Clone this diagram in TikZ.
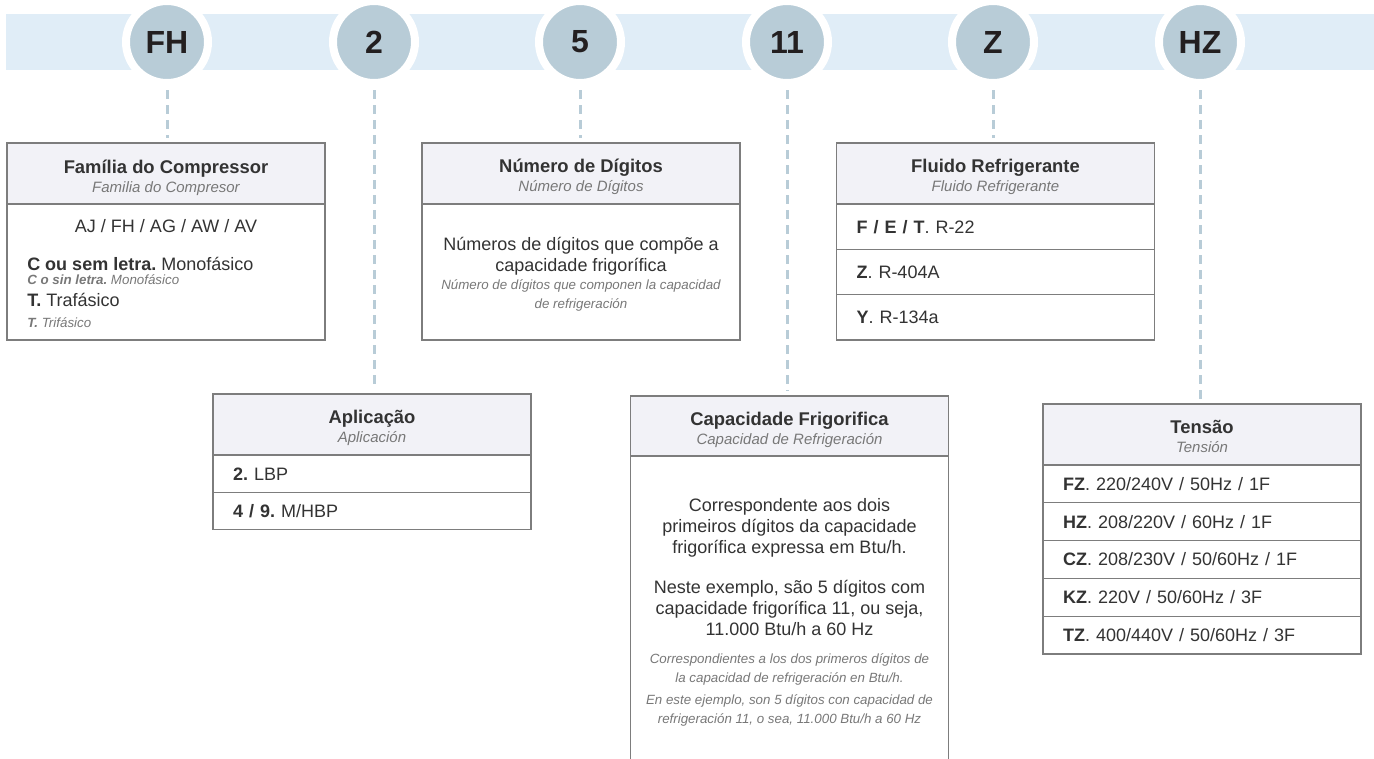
\documentclass[tikz,border=0pt]{standalone}
\usepackage{fontspec}
\setmainfont{Liberation Sans}
\frenchspacing
\usetikzlibrary{positioning}
\definecolor{bandblue}{RGB}{224,237,247}
\definecolor{digitgrey}{RGB}{184,204,215}
\definecolor{digittext}{RGB}{35,31,32}
\definecolor{headgrey}{RGB}{242,242,247}
\definecolor{linegrey}{RGB}{125,125,125}
\definecolor{txtdark}{RGB}{51,51,51}
\definecolor{txtlight}{RGB}{120,120,120}

\begin{document}
\begin{tikzpicture}[x=0.75pt, y=-0.75pt]

	\tikzstyle{digit}=[circle, fill=digitgrey, draw=white, line width=6pt, minimum size=61.5pt, inner sep=0pt, text=digittext, font=\bfseries\fontsize{24}{24}\selectfont]
	\tikzstyle{link}=[draw=digitgrey, line width=2.25pt, dash pattern=on 6.75pt off 4.5pt, shorten <=2.25pt, shorten >=3.75pt]
	\tikzstyle{pane}=[rectangle, draw=linegrey, line width=0.9pt, fill=white, minimum width=238.5pt, outer sep=0pt, inner sep=0pt]
	\tikzstyle{head}=[pane, fill=headgrey, minimum height=45.75pt]
	\tikzstyle{row}=[pane, text width=208.5pt, inner xsep=15pt, align=left, text=txtdark, font=\fontsize{13.5}{16}\selectfont, text height=9.7pt, text depth=0pt]
	\tikzstyle{ttl}=[anchor=base, inner sep=0pt, text=txtdark, font=\bfseries\fontsize{13.8}{15}\selectfont]
	\tikzstyle{sub}=[anchor=base, inner sep=0pt, text=txtlight, font=\itshape\fontsize{11.25}{13}\selectfont]
	\tikzstyle{txt}=[anchor=base, inner sep=0pt, align=center, text=txtdark, font=\fontsize{13.5}{15.75}\selectfont]
	\tikzstyle{note}=[anchor=base, inner sep=0pt, align=center, text=txtlight, font=\itshape\fontsize{10}{14}\selectfont]

	\useasboundingbox (0,0) rectangle (1374,758);
	\fill[bandblue] (6,14) rectangle (1374,70);

	% code letters
	\node at (167,42) (cFH) [digit] {FH};
	\node at (374,42) (cApp) [digit] {2};
	\node at (580,42) (cDig) [digit] {5};
	\node at (787,42) (cCap) [digit] {11};
	\node at (993,42) (cGas) [digit] {Z};
	\node at (1200,42) (cVolt) [digit] {HZ};

	% familia
	\node at (166,173.5) (famHead) [head] {};
	\node at (166,272) (famBody) [pane, minimum height=102pt] {};
	\node at (166,173) (famTitle) [ttl] {Família do Compressor};
	\node at (166,192) (famSub) [sub] {Familia do Compresor};
	\node at (166,232) (famList) [txt] {AJ / FH / AG / AW / AV};
	\node at (27,270) (famMono) [txt, anchor=base west] {\textbf{C ou sem letra.} Monofásico};
	\node at (27,284) (famMonoEs) [note, anchor=base west] {\textbf{C o sin letra.} Monofásico};
	\node at (27,306) (famTri) [txt, anchor=base west] {\textbf{T.} Trafásico};
	\node at (27,327) (famTriEs) [note, anchor=base west] {\textbf{T.} Trifásico};

	% aplicacao
	\node at (372,424.5) (appHead) [head] {};
	\node (appRowA) [row, minimum height=28pt, below=0pt of appHead] {\textbf{2.} LBP};
	\node (appRowB) [row, minimum height=28pt, below=0pt of appRowA] {\textbf{4 / 9.} M/HBP};
	\node at (372,423) (appTitle) [ttl] {Aplicação};
	\node at (372,442) (appSub) [sub] {Aplicación};

	% numero de digitos
	\node at (581,173.5) (digHead) [head] {};
	\node at (581,272) (digBody) [pane, minimum height=102pt] {};
	\node at (581,172) (digTitle) [ttl] {Número de Dígitos};
	\node at (581,191) (digSub) [sub] {Número de Dígitos};
	\node at (581,271) (digText) [txt] {Números de dígitos que compõe a\\capacidade frigorífica};
	\node at (581,308) (digNote) [note] {Número de dígitos que componen la capacidad\\de refrigeración};

	% capacidade
	\node at (789.5,426) (capHead) [head, minimum height=45pt] {};
	\node at (789.5,613) (capBody) [pane, minimum height=235.5pt] {};
	\node at (789.5,425) (capTitle) [ttl] {Capacidade Frigorifica};
	\node at (789.5,444) (capSub) [sub] {Capacidad de Refrigeración};
	\node at (789.5,553) (capTextA) [txt] {Correspondente aos dois\\primeiros dígitos da capacidade\\frigorífica expressa em Btu/h.};
	\node at (789.5,635) (capTextB) [txt] {Neste exemplo, são 5 dígitos com\\capacidade frigorífica 11, ou seja,\\11.000 Btu/h a 60 Hz};
	\node at (789.5,682) (capNoteA) [note] {Correspondientes a los dos primeros dígitos de\\la capacidad de refrigeración en Btu/h.};
	\node at (789.5,723) (capNoteB) [note] {En este ejemplo, son 5 dígitos con capacidad de\\refrigeración 11, o sea, 11.000 Btu/h a 60 Hz};

	% fluido
	\node at (995.5,173.5) (gasHead) [head] {};
	\node (gasRowA) [row, minimum height=34pt, below=0pt of gasHead] {\textbf{F / E / T}. R-22};
	\node (gasRowB) [row, minimum height=34pt, below=0pt of gasRowA] {\textbf{Z}. R-404A};
	\node (gasRowC) [row, minimum height=34pt, below=0pt of gasRowB] {\textbf{Y}. R-134a};
	\node at (995.5,172) (gasTitle) [ttl] {Fluido Refrigerante};
	\node at (995.5,191) (gasSub) [sub] {Fluido Refrigerante};

	% tensao
	\node at (1202,434.5) (voltHead) [head] {};
	\node (voltRowA) [row, minimum height=28.35pt, below=0pt of voltHead] {\textbf{FZ}. 220/240V / 50Hz / 1F};
	\node (voltRowB) [row, minimum height=28.35pt, below=0pt of voltRowA] {\textbf{HZ}. 208/220V / 60Hz / 1F};
	\node (voltRowC) [row, minimum height=28.35pt, below=0pt of voltRowB] {\textbf{CZ}. 208/230V / 50/60Hz / 1F};
	\node (voltRowD) [row, minimum height=28.35pt, below=0pt of voltRowC] {\textbf{KZ}. 220V / 50/60Hz / 3F};
	\node (voltRowE) [row, minimum height=28.35pt, below=0pt of voltRowD] {\textbf{TZ}. 400/440V / 50/60Hz / 3F};
	\node at (1202,433) (voltTitle) [ttl] {Tensão};
	\node at (1202,452) (voltSub) [sub] {Tensión};

	\draw[link] (cFH) -- (cFH |- famHead.north);
	\draw[link] (cApp) -- (cApp |- appHead.north);
	\draw[link] (cDig) -- (cDig |- digHead.north);
	\draw[link] (cCap) -- (cCap |- capHead.north);
	\draw[link] (cGas) -- (cGas |- gasHead.north);
	\draw[link] (cVolt) -- (cVolt |- voltHead.north);
\end{tikzpicture}
\end{document}
